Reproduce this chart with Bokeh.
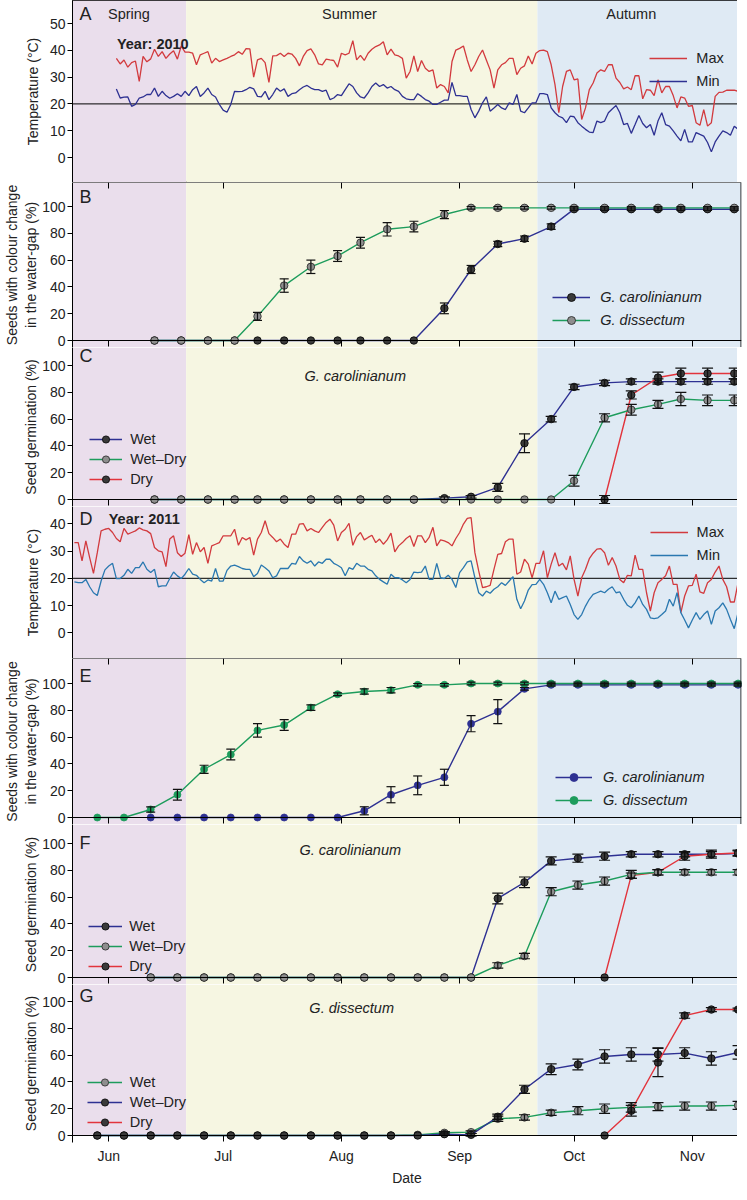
from datetime import date
from bokeh.plotting import figure
from bokeh.layouts import column
from bokeh.models import (Range1d, FixedTicker, LinearAxis, BoxAnnotation, Span,
                          Label, Legend, LegendItem, Whisker, TeeHead, ColumnDataSource)
from bokeh.embed import file_html
from bokeh.resources import INLINE

FONT = "Liberation Sans"

# ---------------------------------------------------------------- data
MONTHS = ["Jun", "Jul", "Aug", "Sep", "Oct", "Nov"]
MONTH_STARTS = ["06-01", "07-01", "08-01", "09-01", "10-01", "11-01"]
SEASONS = ["Spring", "Summer", "Autumn"]
SEASON_BOUNDS = [20.3, 112.4]          # days after 1 June
SEASON_LABEL_X = [5.3, 63.1, 137.0]    # days after 1 June

# daily air temperature 2010 (starting 3 June)
T2010_START = "06-03"
T2010_MAX = [37.0, 34.9, 36.4, 33.7, 35.4, 36.0, 28.4, 37.7, 35.7, 36.8, 40.4, 37.7, 39.5, 37.0, 38.6,
             39.8, 36.7, 41.6, 39.3, 39.3, 38.9, 34.6, 38.3, 38.9, 39.5, 35.2, 37.0, 35.8, 36.4, 37.0,
             37.7, 38.3, 39.5, 38.5, 40.6, 40.5, 30.0, 36.4, 37.0, 35.4, 28.0, 37.9, 38.0, 38.9, 37.7,
             38.9, 38.6, 37.0, 34.2, 37.7, 39.9, 40.5, 38.3, 34.9, 34.6, 36.7, 36.4, 36.2, 33.7, 38.9,
             38.3, 38.9, 43.6, 36.4, 38.1, 36.2, 38.9, 40.4, 41.4, 42.0, 43.2,
             38.3, 40.4, 38.3, 37.9, 37.0, 29.6, 32.1, 37.9, 32.1, 36.2, 33.3, 32.1, 32.7, 25.9, 27.2,
             26.5, 24.1, 35.8, 40.1, 40.7, 41.6, 36.4, 32.1, 34.6, 37.7, 40.1, 36.4, 32.7, 25.9, 32.7,
             34.6, 35.4, 37.0, 37.0, 30.9, 33.3, 34.2, 37.9, 34.9, 38.9, 39.9, 40.1, 39.5, 34.6, 27.2,
             16.7, 26.5, 32.1, 32.7, 29.0, 29.3, 14.2, 18.5, 25.3, 27.8, 31.5, 32.7, 32.1, 34.6, 34.6,
             29.6, 28.0, 25.6, 26.3, 25.3, 30.5, 30.5, 21.9, 25.3, 25.1, 23.1, 29.0, 24.1, 26.5, 26.5,
             23.1, 18.5, 22.6, 22.2, 19.1, 19.4, 13.0, 12.0, 17.9, 11.7, 13.0, 22.8, 24.3, 24.4, 25.1,
             25.1, 25.1, 24.7, 16.4]
T2010_MIN = [25.6, 22.2, 22.5, 22.6, 19.1, 19.8, 22.2, 22.6, 23.5, 23.5, 25.9, 22.8, 24.7, 23.1, 22.1,
             22.8, 23.8, 22.8, 24.7, 23.1, 25.3, 26.5, 22.8, 24.1, 25.9, 23.5, 22.6, 19.8, 17.7, 16.9,
             19.8, 24.7, 24.6, 24.7, 25.3, 26.2, 25.6, 22.8, 22.6, 24.7, 21.6, 23.5, 25.9, 24.7, 25.6,
             22.8, 23.8, 24.1, 25.3, 26.3, 26.9, 25.9, 25.3, 25.3, 24.7, 25.1, 21.6, 22.2, 23.5, 23.1,
             25.3, 27.5, 26.5, 24.1, 22.6, 22.2, 24.1, 26.5, 27.8, 26.5, 27.2,
             25.9, 26.5, 25.3, 24.7, 22.8, 21.9, 21.6, 21.6, 23.8, 22.8, 21.6, 21.0, 19.8, 19.8, 20.6,
             21.4, 21.4, 28.0, 23.1, 23.1, 22.8, 22.8, 17.9, 14.8, 17.3, 20.4, 22.6, 17.3, 18.5, 19.8,
             18.5, 17.9, 20.4, 19.8, 23.5, 17.3, 16.7, 18.5, 20.4, 20.4, 23.8, 23.8, 23.5, 18.5, 16.7,
             15.4, 14.8, 13.0, 15.4, 15.2, 13.0, 11.7, 10.5, 9.5, 9.3, 13.6, 13.0, 13.6, 16.7, 18.1,
             19.4, 16.7, 12.3, 12.7, 9.0, 12.3, 15.7, 12.7, 11.1, 12.3, 8.3, 13.6, 16.7, 12.3, 11.7,
             9.9, 8.0, 6.2, 10.5, 5.8, 5.8, 9.3, 8.6, 8.0, 5.6, 2.1, 5.8, 8.0, 9.9, 9.3,
             8.3, 11.7, 10.5, 6.8]

# daily air temperature 2011 (starting 23 May)
T2011_START = "05-23"
T2011_MAX = [33.1, 33.1, 26.4, 33.7, 27.6, 21.8, 29.4, 37.4, 38.0, 38.3, 36.8, 34.6, 33.4, 38.3, 36.2,
             36.8, 37.4, 38.5, 37.8, 37.4, 36.4, 31.3, 30.1, 29.7, 24.3, 34.4, 35.6, 29.4, 28.0, 29.2,
             36.0, 28.8, 33.1, 29.7, 31.3, 25.5, 31.9, 32.5, 33.1, 35.6, 35.6, 35.6, 38.0, 32.1, 35.0,
             34.1, 35.0, 28.5, 34.4, 36.8, 41.1, 36.4, 35.0, 33.4, 34.4, 32.5, 31.3, 36.2, 36.2, 39.9,
             40.1, 37.4, 38.3, 37.4, 36.8, 38.7, 40.5, 41.7, 39.5, 33.7, 36.8, 38.0, 40.2, 32.1, 35.3,
             36.8, 34.1, 35.0, 35.8, 33.1, 34.4, 32.5,
             34.1, 36.6, 29.7, 31.9, 33.1, 34.6, 35.6, 31.7, 35.6, 35.6, 33.1, 35.0, 38.7, 31.9, 34.1,
             33.7, 33.1, 31.9, 34.6, 36.8, 39.9, 42.0, 42.3, 29.4, 22.7, 16.6, 16.9, 17.4, 23.3, 28.8,
             29.1, 33.4, 34.4, 34.4, 21.5, 22.3, 27.0, 25.2, 20.2, 25.5, 25.5, 30.1, 20.2, 25.2, 29.4,
             24.5, 25.5, 23.1, 28.2, 19.6, 13.5, 20.2, 23.3, 27.2, 29.2, 30.7, 30.9, 29.4, 24.8, 27.6,
             24.5, 19.6, 18.4, 21.1, 20.9, 28.5, 23.3, 23.3, 14.7, 8.0, 14.7, 18.4, 19.6, 20.9, 24.5,
             17.8, 17.8, 7.4, 13.5, 17.2, 17.4, 21.5, 15.0, 14.5, 18.4, 19.6, 22.3, 24.5, 19.6, 16.9,
             11.3, 11.3, 18.4, 20.9, 22.3]
T2011_MIN = [18.7, 18.4, 18.4, 19.6, 16.9, 14.7, 13.7, 19.0, 23.1, 24.5, 25.5, 19.9, 19.9, 21.1, 23.3,
             21.8, 23.9, 23.9, 26.0, 23.3, 22.1, 23.3, 16.9, 17.2, 17.2, 19.9, 22.3, 20.9, 19.9, 21.5,
             23.6, 21.5, 21.1, 19.6, 18.4, 19.4, 19.0, 23.6, 19.0, 19.0, 22.9, 24.5, 24.8, 24.3, 23.6,
             23.3, 23.3, 20.6, 21.8, 24.9, 23.9, 22.7, 20.2, 20.9, 23.6, 23.6, 23.6, 25.5, 25.2, 28.0,
             26.4, 25.5, 26.4, 24.5, 26.0, 25.5, 27.0, 27.0, 25.5, 24.8, 23.9, 20.9, 23.9, 23.3, 25.5,
             24.5, 24.5, 23.3, 22.7, 20.9, 19.6, 18.7,
             17.8, 21.5, 20.2, 20.2, 19.4, 18.4, 19.6, 22.3, 22.1, 22.3, 24.5, 19.6, 19.6, 25.5, 20.2,
             19.9, 21.1, 19.6, 16.6, 22.1, 23.9, 26.0, 26.4, 20.2, 14.7, 13.5, 15.3, 14.5, 16.0, 16.9,
             18.4, 17.4, 19.0, 20.6, 12.3, 8.8, 11.7, 15.7, 17.7, 17.8, 19.6, 17.8, 14.7, 11.0, 15.3,
             12.3, 12.9, 13.5, 10.4, 6.7, 4.9, 6.7, 9.8, 12.3, 14.1, 14.7, 15.3, 14.7, 16.0, 16.9,
             14.7, 15.0, 12.3, 10.1, 9.2, 11.0, 13.5, 10.4, 8.6, 5.5, 5.2, 5.5, 6.7, 8.0, 12.3,
             9.8, 14.7, 7.4, 4.7, 1.8, 4.7, 7.4, 4.9, 6.7, 8.0, 3.1, 8.0, 9.2, 11.0, 8.6,
             4.9, 1.5, 7.4, 12.3, 16.2]

# sampling dates
S2010 = ["06-13", "06-20", "06-27", "07-04", "07-10", "07-17", "07-24", "07-31", "08-06", "08-13",
         "08-20", "08-28", "09-04", "09-11", "09-18", "09-25", "10-01", "10-09", "10-16", "10-23",
         "10-29", "11-05", "11-12"]
S2011 = ["05-29", "06-05", "06-12", "06-19", "06-26", "07-03", "07-10", "07-17", "07-24", "07-31",
         "08-07", "08-14", "08-21", "08-28", "09-04", "09-11", "09-18", "09-25", "10-02", "10-09",
         "10-16", "10-23", "10-30", "11-06", "11-13"]

# B: colour change 2010 (all S2010)
B_CAROL = [0, 0, 0, 0, 0, 0, 0, 0, 0, 0, 0, 24, 53, 72, 76, 85, 98, 98, 98, 98, 98, 98, 98]
B_CAROL_SE = [0, 0, 0, 0, 0, 0, 0, 0, 0, 0, 0, 4, 3, 2, 2, 2, 1, 1, 1, 1, 1, 1, 1]
B_DISS = [0, 0, 0, 0, 18, 41, 55, 63, 73, 83, 85, 94, 99, 99, 99, 99, 99, 99, 99, 99, 99, 99, 99]
B_DISS_SE = [0, 0, 0, 0, 3, 5, 5, 4, 4, 5, 4, 3, 1, 1, 1, 1, 1, 1, 1, 1, 1, 1, 1]

# C: germination G. carolinianum 2010
C_WET = [0, 0, 0, 0, 0, 0, 0, 0, 0, 0, 0, 1, 2, 9, 42, 60, 84, 87, 88, 88, 88, 88, 88]
C_WET_SE = [0, 0, 0, 0, 0, 0, 0, 0, 0, 0, 0, 1, 1, 3, 7, 2, 2, 2, 2, 2, 2, 2, 2]
C_WETDRY = [0, 0, 0, 0, 0, 0, 0, 0, 0, 0, 0, 0, 0, 0, 0, 0, 14, 61, 67, 71, 75, 74, 74]
C_WETDRY_SE = [0, 0, 0, 0, 0, 0, 0, 0, 0, 0, 0, 0, 0, 0, 0, 0, 4, 3, 4, 3, 5, 4, 4]
C_DRY = [0, 78, 91, 94, 94, 94]            # from 9 October
C_DRY_SE = [3, 3, 4, 4, 4, 4]

# E: colour change 2011
E_DISS = [0, 0, 6, 17, 36, 47, 65, 69, 82, 92, 94, 95, 99, 99, 100, 100, 100, 100, 100, 100,
          100, 100, 100, 100, 100]
E_DISS_SE = [0, 0, 2, 4, 3, 4, 5, 4, 2, 1, 2, 2, 1, 1, 1, 1, 1, 1, 1, 1, 1, 1, 1, 1, 1]
E_CAROL = [0, 0, 0, 0, 0, 0, 0, 0, 5, 17, 24, 30, 70, 79, 96, 99, 99, 99, 99, 99, 99, 99, 99]  # from 12 June
E_CAROL_SE = [0, 0, 0, 0, 0, 0, 0, 0, 3, 6, 7, 6, 6, 9, 1, 1, 1, 1, 1, 1, 1, 1, 1]

# F: germination G. carolinianum 2011 (from 12 June)
F_WET = [0, 0, 0, 0, 0, 0, 0, 0, 0, 0, 0, 0, 0, 59, 71, 87, 89, 90.5, 92, 92, 92, 92, 92.5]
F_WET_SE = [0, 0, 0, 0, 0, 0, 0, 0, 0, 0, 0, 0, 0, 4, 4, 3, 3, 3, 2, 2, 2, 2, 2]
F_WETDRY = [0, 0, 0, 0, 0, 0, 0, 0, 0, 0, 0, 0, 0, 9, 16, 64, 69, 72, 77, 78.5, 78.5, 78.5, 78.5]
F_WETDRY_SE = [0, 0, 0, 0, 0, 0, 0, 0, 0, 0, 0, 0, 0, 2, 2, 3, 3, 3, 3, 2, 2, 2, 2]
F_DRY = [0, 76, 78.5, 90.5, 92, 93]        # from 9 October
F_DRY_SE = [0, 2, 2, 3, 3, 2]

# G: germination G. dissectum 2011 (all S2011)
G_WET = [0, 0, 0, 0, 0, 0, 0, 0, 0, 0, 0, 0, 0.5, 2, 2.5, 12.5, 13.5, 17, 18.5, 20, 21, 21.5,
         22, 22, 22.5]
G_WET_SE = [0, 0, 0, 0, 0, 0, 0, 0, 0, 0, 0, 0, 0, 1, 1, 2, 2, 2, 3, 3.5, 3.5, 3, 3, 3, 3]
G_WETDRY = [0, 0, 0, 0, 0, 0, 0, 0, 0, 0, 0, 0, 0, 1, 0.5, 14, 34.5, 49.5, 53, 59, 60.5, 60.5,
            61.5, 57.5, 62]
G_WETDRY_SE = [0, 0, 0, 0, 0, 0, 0, 0, 0, 0, 0, 0, 0, 1, 1, 2, 3, 4, 4, 5, 5, 5, 4, 5, 5]
G_DRY = [0, 18.5, 54.5, 89.5, 94, 94]      # from 9 October
G_DRY_SE = [0, 4, 10.5, 2, 1.5, 1]

# ---------------------------------------------------------------- helpers
def dnum(year, mmdd):
    m, d = (int(v) for v in mmdd.split("-"))
    return (date(year, m, d) - date(year, 6, 1)).days


def daily(year, start, n):
    s = dnum(year, start)
    return [s + i for i in range(n)]


MONTH_DAYS = [dnum(2010, m) for m in MONTH_STARTS]
X2010 = [dnum(2010, s) for s in S2010]
X2011 = [dnum(2011, s) for s in S2011]

# styles / layout
SEASON_COLORS = ["#eadeec", "#f6f6e2", "#dfeaf4"]
RED = "#d23a3e"
NAVY = "#2e3192"
STEEL = "#2a78b0"
GREEN = "#1d9c5c"
DRED = "#e2343c"
DARK = "#3a3a3a"
GRAY = "#8e8e8e"

X0, X1 = -9.5, 165.9
LEFT = 66
FW = 669
RIGHT = 2
PCT = 1.34      # px per percent unit
GAP = 7         # px of frame below the zero line
REF_L, REF_W = 65.0, 678.0
LEG_DY = 8      # legend vertical correction


def rx(px):
    return (px - REF_L) * FW / REF_W


def make(frame_h, y0, y1, yticks, ylabel, standoff, shade_from_zero=False):
    p = figure(frame_width=FW, frame_height=frame_h, x_range=Range1d(X0, X1),
               y_range=Range1d(y0, y1), x_axis_location=None,
               output_backend="svg", toolbar_location=None,
               min_border_left=LEFT, min_border_right=RIGHT, min_border_top=0,
               min_border_bottom=0, outline_line_color=None,
               background_fill_color="white", border_fill_color="white")
    p.grid.visible = False
    ya = p.yaxis[0]
    ya.ticker = FixedTicker(ticks=yticks)
    ya.axis_label = ylabel
    ya.major_tick_out = 5
    ya.major_tick_in = 0
    ya.minor_tick_out = 0
    ya.minor_tick_in = 0
    ya.major_label_standoff = 2
    ya.major_label_text_font = FONT
    ya.major_label_text_font_size = "14px"
    ya.major_label_text_color = "#222222"
    ya.axis_label_text_font = FONT
    ya.axis_label_text_font_size = "14px"
    ya.axis_label_text_font_style = "normal"
    ya.axis_label_text_color = "#222222"
    ya.axis_label_standoff = standoff
    ya.axis_line_color = "black"
    ya.major_tick_line_color = "black"
    edges = [None] + SEASON_BOUNDS + [None]
    for i, col in enumerate(SEASON_COLORS):
        kw = dict(fill_color=col, fill_alpha=1, line_alpha=0, level="underlay")
        if edges[i] is not None:
            kw["left"] = edges[i]
        if edges[i + 1] is not None:
            kw["right"] = edges[i + 1]
        if shade_from_zero:
            kw["bottom"] = 0
        p.add_layout(BoxAnnotation(**kw))
    p.add_layout(Span(location=X1 - 0.12, dimension="height", line_color="black", line_width=1))
    return p


def tick_axis(p, loc, side, tin, tout):
    ax = LinearAxis(fixed_location=loc, ticker=FixedTicker(ticks=MONTH_DAYS),
                    major_tick_in=tin, major_tick_out=tout, minor_tick_in=0, minor_tick_out=0,
                    major_label_text_color=None, axis_line_color="black",
                    major_tick_line_color="black")
    p.add_layout(ax, side)


def text(p, x, y, s, size="14.5px", style="normal", align="left"):
    p.add_layout(Label(x=x, y=y, text=s, text_font=FONT, text_font_size=size,
                       text_font_style=style, text_align=align, text_baseline="middle",
                       text_color="#222222"))


def series(p, xs, ys, se, line_color, fill, edge, size=7.5, head=11):
    src = ColumnDataSource(dict(x=xs, y=ys))
    lr = p.line("x", "y", source=src, line_color=line_color, line_width=1.4)
    wx = [x for x, e in zip(xs, se) if e > 0]
    lo = [y - e for y, e in zip(ys, se) if e > 0]
    hi = [y + e for y, e in zip(ys, se) if e > 0]
    if wx:
        w = Whisker(source=ColumnDataSource(dict(x=wx, lo=lo, hi=hi)), base="x", lower="lo",
                    upper="hi", dimension="height", line_color="#111111", line_width=1.2,
                    level="glyph",
                    upper_head=TeeHead(size=head, line_color="#111111", line_width=1.2),
                    lower_head=TeeHead(size=head, line_color="#111111", line_width=1.2))
        p.add_layout(w)
    sr = p.scatter("x", "y", source=src, size=size, fill_color=fill, line_color=edge,
                   line_width=0.8)
    return [lr, sr]


def legend(p, items, ref_x, vy, gw, h, spacing, standoff, italic=False, dx=0):
    lg = Legend(items=[LegendItem(label=l, renderers=r) for l, r in items],
                location=(rx(ref_x) + dx, vy - LEG_DY), glyph_width=int(round(gw)),
                glyph_height=h, label_height=h, label_standoff=int(round(standoff)),
                spacing=int(round(spacing)), padding=0, margin=0,
                border_line_alpha=0, background_fill_alpha=0,
                label_text_font=FONT, label_text_font_size="14.5px",
                label_text_font_style="italic" if italic else "normal",
                label_text_color="#222222")
    p.add_layout(lg)


def pct_panel(frame_h, ylabel, standoff, shade_from_zero=False):
    return make(frame_h, -GAP / PCT, (frame_h - GAP) / PCT, [0, 20, 40, 60, 80, 100],
                ylabel, standoff, shade_from_zero)


SEEDS_LABEL = "Seeds with colour change\nin the water-gap (%)"
GERM_LABEL = "Seed germination (%)"
TEMP_LABEL = "Temperature (°C)"
LETTER_X = (72 - 101.7) / 3.865

# ---------------------------------------------------------------- A
A_SCALE = 2.68
pA = make(182, -25 / A_SCALE, 157 / A_SCALE, [0, 10, 20, 30, 40, 50], TEMP_LABEL, 6)
pA.outline_line_color = "black"
pA.add_layout(Span(location=20, dimension="width", line_color="black", line_width=1, level="underlay"))
xa = daily(2010, T2010_START, len(T2010_MAX))
rmax = pA.line(xa, T2010_MAX, line_color=RED, line_width=1.3)
rmin = pA.line(xa, T2010_MIN, line_color=NAVY, line_width=1.3)
text(pA, LETTER_X, 53.4, "A", size="18px")
for lab, xx in zip(SEASONS, SEASON_LABEL_X):
    text(pA, xx, 53.4, lab, align="center")
text(pA, (110 - 101.7) / 3.865, 42.2, "Year: 2010", style="bold")
legend(pA, [("Max", [rmax]), ("Min", [rmin])], 648, 99, 38.5, 20, 3, 9, dx=17.4)

# ---------------------------------------------------------------- B
pB = pct_panel(165, SEEDS_LABEL, 0)
tick_axis(pB, (165 - GAP) / PCT, "above", 6, 0)
tick_axis(pB, 0, "below", 0, 6)
rb1 = series(pB, X2010, B_CAROL, B_CAROL_SE, NAVY, DARK, "black", head=9)
rb2 = series(pB, X2010, B_DISS, B_DISS_SE, GREEN, GRAY, "#222222", head=9)
text(pB, LETTER_X, 107.2, "B", size="18px")
legend(pB, [("G. carolinianum", rb1), ("G. dissectum", rb2)], 549, 24.7, 38, 20, 2.6, 9.7,
       True, dx=2.7)

# ---------------------------------------------------------------- C
pC = pct_panel(159, GERM_LABEL, 0)
tick_axis(pC, 0, "below", 0, 6)
rc1 = series(pC, X2010, C_WET, C_WET_SE, NAVY, DARK, "black")
rc3 = series(pC, X2010[-len(C_DRY):], C_DRY, C_DRY_SE, DRED, DARK, "black")
rc2 = series(pC, X2010, C_WETDRY, C_WETDRY_SE, GREEN, GRAY, "#222222")
text(pC, LETTER_X, 106.9, "C", size="18px")
text(pC, (300 - 101.7) / 3.865, 92.0, "G. carolinianum", style="italic")
legend(pC, [("Wet", rc1), ("Wet–Dry", rc2), ("Dry", rc3)], 80, 25.7, 33, 18, 2.3, 8, dx=17)

# ---------------------------------------------------------------- D
D_SCALE = 2.725
pD = make(152, -25.7 / D_SCALE, 126.3 / D_SCALE, [0, 10, 20, 30, 40], TEMP_LABEL, 6)
pD.add_layout(Span(location=20, dimension="width", line_color="black", line_width=1, level="underlay"))
xd = daily(2011, T2011_START, len(T2011_MAX))
dmax = pD.line(xd, T2011_MAX, line_color=RED, line_width=1.3)
dmin = pD.line(xd, T2011_MIN, line_color=STEEL, line_width=1.3)
text(pD, LETTER_X, 41.6, "D", size="18px")
text(pD, 0.0, 41.6, "Year: 2011", style="bold")
legend(pD, [("Max", [dmax]), ("Min", [dmin])], 648.3, 101.3, 38.4, 20, 2.7, 9.3, dx=17.4)

# ---------------------------------------------------------------- E
pE = pct_panel(166, SEEDS_LABEL, 0)
tick_axis(pE, (166 - GAP) / PCT, "above", 6, 0)
tick_axis(pE, 0, "below", 0, 6)
re1 = series(pE, X2011[-len(E_CAROL):], E_CAROL, E_CAROL_SE, NAVY, NAVY, NAVY, size=7, head=9)
re2 = series(pE, X2011, E_DISS, E_DISS_SE, GREEN, GREEN, GREEN, size=7, head=9)
text(pE, LETTER_X, 105.4, "E", size="18px")
legend(pE, [("G. carolinianum", re1), ("G. dissectum", re2)], 551.7, 22.3, 36.6, 20, 3.4, 11,
       True, dx=2.7)

# ---------------------------------------------------------------- F
pF = pct_panel(160, GERM_LABEL, 0)
tick_axis(pF, 0, "below", 0, 6)
xf = X2011[-len(F_WET):]
rf1 = series(pF, xf, F_WET, F_WET_SE, NAVY, DARK, "black")
rf3 = series(pF, X2011[-len(F_DRY):], F_DRY, F_DRY_SE, DRED, DARK, "black")
rf2 = series(pF, xf, F_WETDRY, F_WETDRY_SE, GREEN, GRAY, "#222222")
text(pF, LETTER_X, 100.5, "F", size="18px")
text(pF, (295 - 101.7) / 3.865, 95.5, "G. carolinianum", style="italic")
legend(pF, [("Wet", rf1), ("Wet–Dry", rf2), ("Dry", rf3)], 79, 16.7, 34.3, 18, 1.65, 7.4, dx=17)

# ---------------------------------------------------------------- G
pG = pct_panel(158, GERM_LABEL, 0, shade_from_zero=True)
tick_axis(pG, 0, "below", 0, 6)
gx = LinearAxis(ticker=FixedTicker(ticks=MONTH_DAYS),
                major_label_overrides={d: m for d, m in zip(MONTH_DAYS, MONTHS)},
                major_tick_in=0, major_tick_out=0, minor_tick_in=0, minor_tick_out=0,
                axis_line_color=None, major_label_standoff=5,
                major_label_text_font=FONT, major_label_text_font_size="14px",
                major_label_text_color="#222222",
                axis_label="Date", axis_label_standoff=3, axis_label_text_font=FONT,
                axis_label_text_font_size="14px", axis_label_text_font_style="normal",
                axis_label_text_color="#222222")
pG.add_layout(gx, "below")
rg1 = series(pG, X2011, G_WET, G_WET_SE, GREEN, GRAY, "#222222")
rg2 = series(pG, X2011, G_WETDRY, G_WETDRY_SE, NAVY, DARK, "black")
rg3 = series(pG, X2011[-len(G_DRY):], G_DRY, G_DRY_SE, DRED, DARK, "black")
text(pG, LETTER_X, 104.0, "G", size="18px")
text(pG, (305 - 101.7) / 3.865, 95.3, "G. dissectum", style="italic")
legend(pG, [("Wet", rg1), ("Wet–Dry", rg2), ("Dry", rg3)], 77.7, 19.3, 34.6, 18, 1.5, 7.7, dx=17)

layout = column(pA, pB, pC, pD, pE, pF, pG, spacing=0)
open("out.html", "w").write(file_html(layout, INLINE))
